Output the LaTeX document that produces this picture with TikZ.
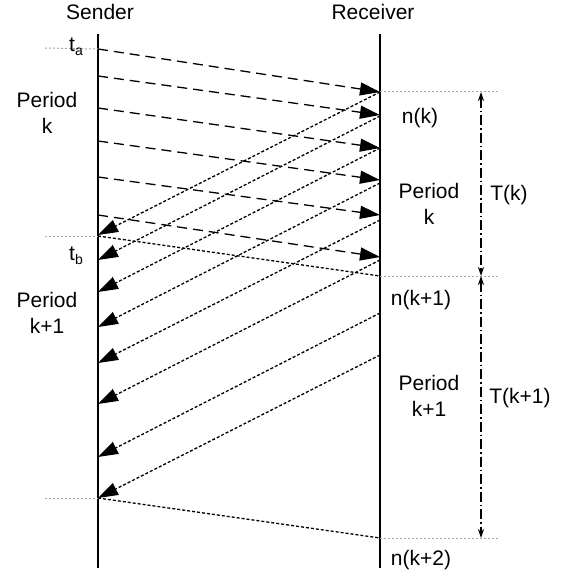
\documentclass[tikz,border=0pt]{standalone}
\usepackage{fontspec}
\setmainfont{Liberation Sans}
\usetikzlibrary{arrows.meta}
\begin{document}
\begin{tikzpicture}[x=1pt,y=-1pt,
  lbl/.style={font=\fontsize{21}{26}\selectfont, align=center, inner sep=0pt},
  life/.style={line width=1.5pt},
  fwd/.style={line width=1.3pt, dash pattern=on 10pt off 6pt, -{Triangle[length=20pt,width=13pt]}},
  bwd/.style={line width=1.3pt, dash pattern=on 3pt off 2pt, -{Triangle[length=20pt,width=13pt]}},
  dotline/.style={line width=1.3pt, dash pattern=on 3pt off 2pt},
  guide/.style={line width=1pt, gray!70, dash pattern=on 2pt off 2pt},
  span/.style={line width=1.2pt, dash pattern=on 10pt off 3pt on 1.5pt off 3pt,
    {Stealth[length=9pt,width=6pt]}-{Stealth[length=9pt,width=6pt]}}]
\useasboundingbox (0,0) rectangle (561,575);
% lifelines
\coordinate (stop) at (98,34);
\coordinate (sbot) at (98,568);
\coordinate (rtop) at (380,34);
\coordinate (rbot) at (380,568);
\draw[life] (stop) -- (sbot);
\draw[life] (rtop) -- (rbot);
% forward (sender -> receiver)
\foreach \i/\ys/\yr in {1/49/92, 2/76/115, 3/108/148, 4/141/180, 5/177/215, 6/215/257}{
  \coordinate (fs\i) at (98,\ys);
  \coordinate (fr\i) at (380,\yr);
  \draw[fwd] (fs\i) -- (fr\i);
}
% backward (receiver -> sender)
\foreach \i/\yr/\ys in {1/92/235, 2/116/260, 3/148/292, 4/183/327, 5/220/363, 6/260/404, 7/313/457, 8/355/498}{
  \coordinate (br\i) at (380,\yr);
  \coordinate (bs\i) at (98,\ys);
  \draw[bwd] (br\i) -- (bs\i);
}
% plain dotted period boundaries
\coordinate (tb) at (98,236);
\coordinate (rk1) at (380,276);
\coordinate (se) at (98,498);
\coordinate (rk2) at (380,538);
\draw[dotline] (tb) -- (rk1);
\draw[dotline] (se) -- (rk2);
% guides
\coordinate (ga) at (45,48);
\coordinate (gb) at (45,236);
\coordinate (gc) at (45,498);
\coordinate (ra) at (498,92);
\coordinate (rb) at (498,276);
\coordinate (rc) at (498,538);
\draw[guide] (ga) -- (fs1);
\draw[guide] (gb) -- (tb);
\draw[guide] (gc) -- (se);
\draw[guide] (fr1) -- (ra);
\draw[guide] (rk1) -- (rb);
\draw[guide] (rk2) -- (rc);
% spans
\coordinate (t1) at (481,92);
\coordinate (t2) at (481,276);
\coordinate (t3) at (481,538);
\draw[span] (t1) -- (t2);
\draw[span] (t2) -- (t3);
% labels
\node[lbl] (sender) at (100,12) {Sender};
\node[lbl] (receiver) at (373,12) {Receiver};
\node[lbl] (ta) at (76,47) {t\raisebox{-0.35ex}{\fontsize{14}{14}\selectfont a}};
\node[lbl] (tbl) at (76,256) {t\raisebox{-0.35ex}{\fontsize{14}{14}\selectfont b}};
\node[lbl] (pk) at (47,113) {Period\\k};
\node[lbl] (pk1) at (47,313) {Period\\k+1};
\node[lbl] (nk) at (420,118) {n(k)};
\node[lbl] (rpk) at (429,204) {Period\\k};
\node[lbl] (Tk) at (509,195) {T(k)};
\node[lbl] (nk1) at (421,300) {n(k+1)};
\node[lbl] (rpk1) at (429,396) {Period\\k+1};
\node[lbl] (Tk1) at (520,398) {T(k+1)};
\node[lbl] (nk2) at (421,560) {n(k+2)};
\end{tikzpicture}
\end{document}
